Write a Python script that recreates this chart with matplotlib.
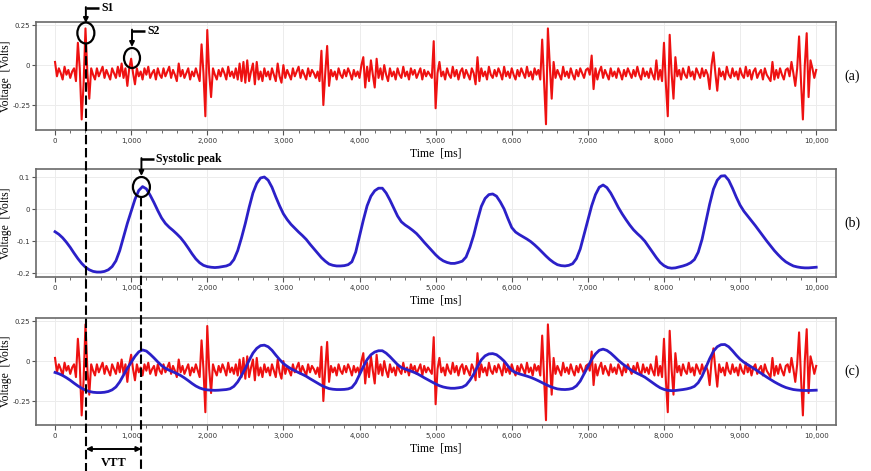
import numpy as np
import matplotlib.pyplot as plt
from matplotlib.patches import Ellipse

# heart sound (PCG), one value every 25 ms from 0 to 10,000 ms
pcg_step = 25
pcg_volts = [
    0.02, -0.07, -0.02, -0.05, -0.09, -0.01, -0.06, -0.03, -0.08, -0.04, -0.02, -0.10, 0.14, -0.02, -0.34, -0.12, 0.23, -0.05, -0.21, -0.02,
    -0.06, -0.09, -0.02, -0.07, -0.04, -0.01, -0.08, -0.03, -0.06, -0.09, -0.02, -0.05, -0.08, -0.01, -0.07, 0.01, -0.08, -0.02, -0.13, -0.02,
    0.04, -0.05, -0.12, -0.02, -0.07, -0.04, -0.09, -0.02, -0.06, -0.01, -0.08, -0.05, -0.03, -0.09, -0.02, -0.06, -0.08, -0.02, -0.07, -0.04,
    -0.01, -0.08, -0.03, -0.06, -0.10, 0.01, -0.07, -0.03, -0.08, -0.05, -0.02, -0.09, -0.04, -0.07, -0.02, -0.06, -0.10, 0.13, -0.05, -0.32,
    0.22, -0.05, -0.20, -0.02, -0.06, -0.09, -0.03, -0.07, -0.02, -0.05, -0.09, -0.01, -0.07, -0.04, -0.08, -0.02, -0.09, 0.01, -0.10, 0.02,
    -0.11, 0.03, -0.10, -0.04, 0.01, -0.12, 0.02, -0.09, -0.04, -0.10, -0.02, -0.07, -0.04, -0.09, -0.02, -0.06, -0.10, 0.01, -0.07, -0.11,
    0.00, -0.08, -0.03, -0.06, -0.09, -0.02, -0.07, -0.04, -0.01, -0.08, -0.03, -0.06, -0.09, -0.02, -0.07, -0.03, -0.05, -0.08, -0.04, -0.10,
    0.09, -0.25, -0.05, 0.12, -0.13, -0.03, -0.07, -0.04, -0.09, -0.02, -0.06, -0.08, -0.03, -0.07, -0.02, -0.05, -0.09, -0.03, -0.07, -0.04,
    -0.08, 0.00, 0.05, -0.14, -0.01, -0.10, 0.03, -0.06, -0.14, 0.04, -0.08, -0.02, -0.09, 0.00, -0.06, -0.10, -0.02, -0.07, -0.04, -0.09,
    -0.02, -0.06, -0.08, -0.01, -0.07, -0.04, -0.09, -0.02, -0.06, -0.03, -0.08, -0.05, -0.02, -0.09, -0.03, -0.07, -0.04, -0.06, -0.08, 0.15,
    -0.27, -0.05, 0.02, -0.07, -0.04, -0.09, -0.02, -0.06, -0.08, -0.01, -0.07, -0.03, -0.09, -0.04, -0.02, -0.08, -0.03, -0.06, -0.09, -0.02,
    -0.05, -0.12, 0.05, -0.10, -0.02, -0.07, -0.04, -0.09, -0.01, -0.06, -0.08, -0.03, -0.07, -0.02, -0.05, -0.09, -0.01, -0.07, -0.04, -0.08,
    -0.02, -0.06, -0.09, -0.03, -0.07, -0.02, -0.05, -0.08, -0.01, -0.07, -0.04, -0.09, -0.02, -0.06, -0.03, -0.09, 0.16, -0.10, -0.37, 0.23,
    0.00, -0.21, 0.02, -0.08, -0.03, -0.06, -0.09, -0.01, -0.07, -0.04, -0.08, -0.02, -0.06, -0.09, -0.03, -0.07, -0.02, -0.05, -0.08, -0.03,
    -0.02, -0.06, 0.06, -0.15, -0.02, -0.09, -0.04, -0.01, -0.08, -0.03, -0.06, -0.09, -0.02, -0.07, -0.04, -0.08, -0.02, -0.05, -0.09, -0.03,
    -0.07, -0.02, -0.05, -0.08, -0.03, -0.07, -0.01, -0.06, -0.09, -0.02, -0.07, -0.04, -0.08, -0.02, -0.06, -0.09, 0.03, -0.09, -0.03, -0.10,
    0.14, -0.12, -0.32, 0.19, -0.05, -0.21, 0.05, -0.07, -0.03, -0.09, -0.02, -0.06, -0.08, -0.01, -0.07, -0.04, -0.09, -0.02, -0.05, -0.08,
    -0.02, -0.07, -0.03, -0.06, -0.15, 0.00, 0.08, -0.05, -0.16, -0.02, -0.07, -0.04, -0.09, -0.01, -0.06, -0.08, -0.02, -0.07, -0.04, -0.09,
    -0.02, -0.06, -0.08, -0.01, -0.07, -0.03, -0.09, -0.04, -0.02, -0.08, -0.05, -0.03, -0.09, -0.02, -0.06, -0.08, -0.10, 0.02, -0.09, -0.03,
    -0.08, -0.02, -0.06, -0.09, -0.03, -0.02, -0.07, 0.02, -0.05, -0.13, -0.02, 0.18, -0.10, -0.34, 0.00, 0.20, -0.20, 0.03, -0.02, -0.08,
    -0.03,
]

# pulse wave (PPG), one value every 50 ms
ppg_step = 50
ppg_volts = [
    -0.071, -0.079, -0.090, -0.104, -0.120, -0.138, -0.155, -0.170, -0.182, -0.190,
    -0.195, -0.197, -0.197, -0.195, -0.190, -0.180, -0.162, -0.130, -0.088, -0.045,
    -0.008, 0.030, 0.058, 0.070, 0.063, 0.043, 0.020, -0.005, -0.028, -0.045,
    -0.057, -0.067, -0.078, -0.090, -0.105, -0.122, -0.140, -0.156, -0.168, -0.176,
    -0.180, -0.182, -0.183, -0.182, -0.180, -0.178, -0.173, -0.158, -0.130, -0.090,
    -0.045, 0.005, 0.050, 0.080, 0.097, 0.100, 0.090, 0.068, 0.038, 0.010,
    -0.015, -0.033, -0.048, -0.060, -0.072, -0.083, -0.095, -0.110, -0.124, -0.138,
    -0.152, -0.163, -0.172, -0.176, -0.178, -0.178, -0.177, -0.174, -0.165, -0.135,
    -0.085, -0.035, 0.010, 0.040, 0.057, 0.065, 0.065, 0.050, 0.028, 0.003,
    -0.022, -0.040, -0.050, -0.058, -0.067, -0.077, -0.090, -0.104, -0.117, -0.130,
    -0.143, -0.154, -0.162, -0.167, -0.170, -0.170, -0.167, -0.163, -0.150, -0.120,
    -0.082, -0.035, 0.008, 0.033, 0.045, 0.047, 0.040, 0.022, 0.000, -0.030,
    -0.058, -0.072, -0.080, -0.087, -0.094, -0.102, -0.112, -0.123, -0.135, -0.147,
    -0.158, -0.167, -0.174, -0.177, -0.178, -0.176, -0.171, -0.155, -0.125, -0.080,
    -0.035, 0.010, 0.045, 0.068, 0.075, 0.067, 0.050, 0.028, 0.005, -0.015,
    -0.033, -0.050, -0.065, -0.077, -0.088, -0.101, -0.118, -0.135, -0.152, -0.167,
    -0.177, -0.183, -0.185, -0.184, -0.181, -0.178, -0.174, -0.168, -0.158, -0.135,
    -0.095, -0.040, 0.015, 0.062, 0.090, 0.103, 0.104, 0.090, 0.065, 0.037,
    0.012, -0.007, -0.022, -0.037, -0.052, -0.068, -0.084, -0.100, -0.115, -0.130,
    -0.143, -0.155, -0.165, -0.172, -0.178, -0.181, -0.183, -0.184, -0.184, -0.183,
    -0.182,
]

time_ticks = list(range(0, 10001, 1000))
pcg_yticks = [0.25, 0, -0.25]
pcg_ylabels = ['0.25', '0', '-0.25']
ppg_yticks = [0.1, 0, -0.1, -0.2]
ppg_ylabels = ['0.1', '0', '-0.1', '-0.2']

s1_ms = 405        # S1 marker
sys_ms = 1135      # systolic peak marker
panel_tags = ['(a)', '(b)', '(c)']

pcg_t = np.arange(len(pcg_volts)) * pcg_step
ppg_t = np.arange(len(ppg_volts)) * ppg_step

RED = '#ee1111'
BLUE = '#2b20c8'
SERIF = 'Liberation Serif'

W, H = 871, 471
fig = plt.figure(figsize=(W / 100, H / 100), dpi=100)


def make_axes(top, bottom, ylim, yticks, ylabels):
    ax = fig.add_axes([36 / W, (H - bottom) / H, 800 / W, (bottom - top) / H])
    ax.set_xlim(-250, 10260)
    ax.set_ylim(*ylim)
    ax.set_xticks(time_ticks)
    ax.set_xticklabels([f'{t:,}' for t in time_ticks])
    ax.set_xticks(range(0, 10001, 200), minor=True)
    ax.set_yticks(yticks)
    ax.set_yticklabels(ylabels)
    ax.tick_params(axis='both', which='major', labelsize=5, length=3.5, width=0.8,
                   color='#555555', labelcolor='#333333', pad=2)
    ax.tick_params(axis='y', which='major', length=3, pad=1.2)
    ax.tick_params(axis='x', which='minor', length=2, width=0.6, color='#555555')
    ax.grid(True, color='#ececec', lw=0.7)
    ax.set_axisbelow(True)
    for sp in ax.spines.values():
        sp.set_color('#6a6a6a')
        sp.set_linewidth(1.2)
    ax.set_xlabel('Time  [ms]', family=SERIF, fontsize=8.5, labelpad=3)
    ax.set_ylabel('Voltage  [Volts]', family=SERIF, fontsize=8.3)
    ax.yaxis.set_label_coords(-0.0305, 0.5)
    return ax


ax_a = make_axes(22, 130, (-0.406, 0.27), pcg_yticks, pcg_ylabels)
ax_b = make_axes(169, 277, (-0.2125, 0.125), ppg_yticks, ppg_ylabels)
ax_c = make_axes(318, 425, (-0.40, 0.27), pcg_yticks, pcg_ylabels)

ax_a.plot(pcg_t, pcg_volts, color=RED, lw=1.5)
ax_b.plot(ppg_t, ppg_volts, color=BLUE, lw=2.0)
ax_c.plot(pcg_t, pcg_volts, color=RED, lw=1.5)
ax_c.plot(ppg_t, ppg_volts, color=BLUE, lw=2.0)

for ax, tag in zip([ax_a, ax_b, ax_c], panel_tags):
    ax.text(1.011, 0.5, tag, transform=ax.transAxes, family=SERIF, fontsize=10,
            ha='left', va='center')

# overlay in pixel units for the hand-drawn markers
ov = fig.add_axes([0, 0, 1, 1], zorder=10)
ov.set_xlim(0, W)
ov.set_ylim(H, 0)
ov.axis('off')

x_s1 = ax_a.transData.transform((s1_ms, 0))[0]
x_sys = ax_b.transData.transform((sys_ms, 0))[0]


def marker(x, y_bar, x_text, y_tip, label, circ_y, cw, ch):
    ov.plot([x, x_text - 1], [y_bar, y_bar], color='black', lw=1.8, solid_capstyle='butt')
    ov.annotate('', xy=(x, y_tip), xytext=(x, y_bar - 0.9),
                arrowprops=dict(arrowstyle='-|>', color='black', lw=1.4,
                                mutation_scale=7, shrinkA=0, shrinkB=0))
    ov.text(x_text + 1, y_bar, label, family=SERIF, fontsize=8.5, weight='bold',
            ha='left', va='center')
    ov.add_patch(Ellipse((x, circ_y), cw, ch, fill=False, ec='black', lw=1.6))


marker(x_s1, 8, 100, 23, 'S1', 33, 17, 21)
marker(132, 30.5, 146, 47, 'S2', 58, 16, 20)
marker(x_sys, 159, 155, 176, 'Systolic peak', 187, 17, 20)

ov.plot([x_s1, x_s1], [43, H], color='black', lw=1.5, dashes=(4.5, 1.8))
ov.plot([x_sys, x_sys], [197, H], color='black', lw=1.5, dashes=(4.5, 1.8))
ov.annotate('', xy=(x_s1, 449), xytext=(x_sys, 449),
            arrowprops=dict(arrowstyle='<|-|>', color='black', lw=1.4,
                            mutation_scale=7, shrinkA=0, shrinkB=0))
ov.text((x_s1 + x_sys) / 2, 463, 'VTT', family=SERIF, fontsize=9, weight='bold',
        ha='center', va='center')

fig.savefig('out.png', dpi=100)
